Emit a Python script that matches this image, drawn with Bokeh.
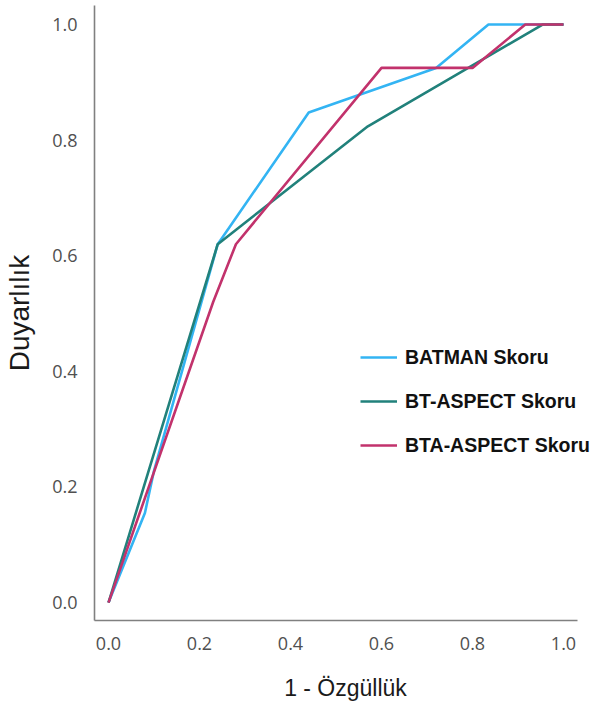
from bokeh.plotting import figure
from bokeh.models import Range1d, Legend, LegendItem, FixedTicker, PrintfTickFormatter
from bokeh.embed import file_html
from bokeh.resources import INLINE

# ROC curve points (1 - specificity, sensitivity)
batman_x = [0.0, 0.08, 0.10, 0.24, 0.44, 0.72, 0.835, 1.0]
batman_y = [0.0, 0.155, 0.228, 0.62, 0.848, 0.925, 1.0, 1.0]

btaspect_x = [0.0, 0.24, 0.57, 0.954, 1.0]
btaspect_y = [0.0, 0.62, 0.824, 1.0, 1.0]

btaaspect_x = [0.0, 0.23, 0.28, 0.60, 0.80, 0.916, 1.0]
btaaspect_y = [0.0, 0.52, 0.62, 0.925, 0.925, 1.0, 1.0]

series_names = ["BATMAN Skoru", "BT-ASPECT Skoru", "BTA-ASPECT Skoru"]
series_colors = ["#33b4f3", "#21817b", "#c2326c"]
ticks = [0.0, 0.2, 0.4, 0.6, 0.8, 1.0]

p = figure(width=596, height=705, output_backend="svg", toolbar_location=None,
           x_range=Range1d(-0.0308, 1.0725), y_range=Range1d(-0.031, 1.033),
           min_border_left=94, min_border_right=0, min_border_top=5, min_border_bottom=85)
p.outline_line_color = None
p.grid.visible = False
p.background_fill_color = "white"
p.border_fill_color = "white"

renderers = []
for xs, ys, c in zip([batman_x, btaspect_x, btaaspect_x],
                     [batman_y, btaspect_y, btaaspect_y], series_colors):
    r = p.line(xs, ys, line_color=c, line_width=2.6)
    renderers.append(r)

for ax in (p.xaxis[0], p.yaxis[0]):
    ax.ticker = FixedTicker(ticks=ticks)
    ax.formatter = PrintfTickFormatter(format="%.1f")
    ax.major_tick_line_color = None
    ax.minor_tick_line_color = None
    ax.axis_line_color = "#808080"
    ax.axis_line_width = 1.6
    ax.major_label_text_font = "Open Sans"
    ax.major_label_text_font_size = "18px"
    ax.major_label_text_color = "#505050"
    ax.axis_label_text_font = "Liberation Sans"
    ax.axis_label_text_font_style = "normal"
    ax.axis_label_text_color = "#1a1a1a"

p.xaxis[0].bounds = (-0.0308, 1.0308)
p.xaxis[0].major_label_standoff = 10
p.yaxis[0].major_label_standoff = 11
p.xaxis[0].axis_label = "1 - Özgüllük"
p.xaxis[0].axis_label_text_font_size = "23px"
p.xaxis[0].axis_label_standoff = 22
p.yaxis[0].axis_label = "Duyarlılık"
p.yaxis[0].axis_label_text_font_size = "28px"
p.yaxis[0].axis_label_standoff = 14

legend = Legend(items=[LegendItem(label=n, renderers=[r]) for n, r in zip(series_names, renderers)],
                location=(266, 160))
legend.label_text_font = "Liberation Sans"
legend.label_text_font_style = "bold"
legend.label_text_font_size = "19.5px"
legend.label_text_color = "#111111"
legend.glyph_width = 37
legend.glyph_height = 30
legend.label_height = 30
legend.label_standoff = 8
legend.spacing = 14
legend.padding = 0
legend.margin = 0
legend.border_line_alpha = 0
legend.background_fill_alpha = 0
p.add_layout(legend)

open("out.html", "w").write(file_html(p, INLINE))
